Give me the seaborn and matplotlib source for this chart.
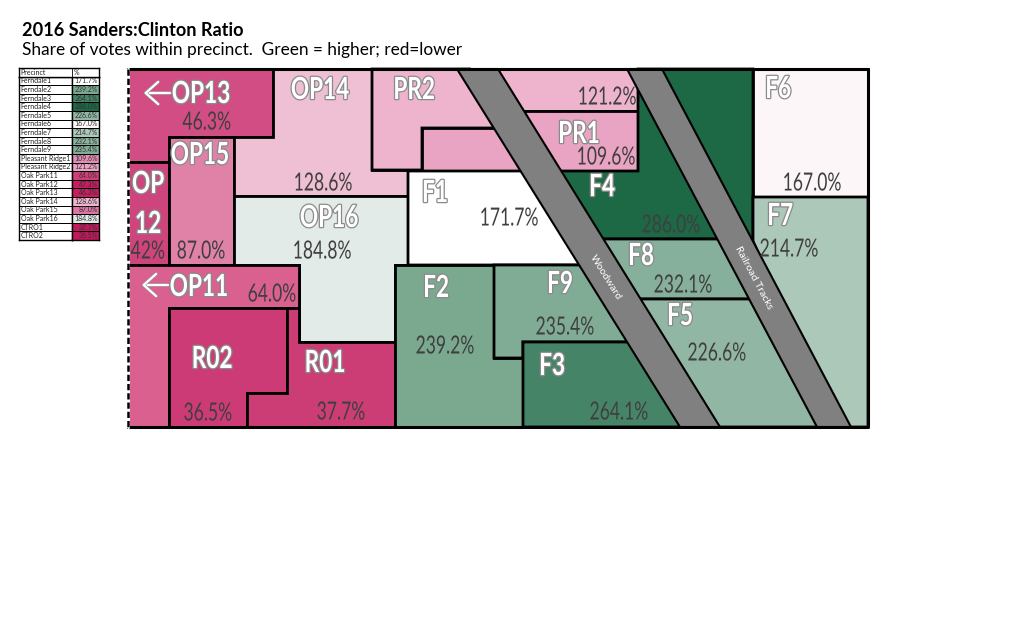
import numpy as np
import pandas as pd
import matplotlib
matplotlib.use("Agg")
import matplotlib.pyplot as plt
import matplotlib.patheffects as pe
from matplotlib.colors import LinearSegmentedColormap, to_rgb
from matplotlib.transforms import Affine2D
import seaborn as sns

# table values
table_names = ["Ferndale1", "Ferndale2", "Ferndale3", "Ferndale4", "Ferndale5", "Ferndale6",
               "Ferndale7", "Ferndale8", "Ferndale9", "Pleasant Ridge1", "Pleasant Ridge2",
               "Oak Park11", "Oak Park12", "Oak Park13", "Oak Park14", "Oak Park15",
               "Oak Park16", "CTRO1", "CTRO2"]
table_values = [171.7, 239.2, 264.1, 286.0, 226.6, 167.0, 214.7, 232.1, 235.4, 109.6, 121.2,
                64.0, 47.3, 46.3, 128.6, 87.0, 184.8, 37.7, 36.5]

# precinct values on the map
map_values = {"OP13": 46.3, "OP12": 42.0, "OP15": 87.0, "OP14": 128.6, "OP16": 184.8,
              "OP11": 64.0, "R02": 36.5, "R01": 37.7, "PR2": 121.2, "PR1": 109.6,
              "F1": 171.7, "F2": 239.2, "F3": 264.1, "F4": 286.0, "F5": 226.6,
              "F6": 167.0, "F7": 214.7, "F8": 232.1, "F9": 235.4}

# precinct outlines, in picture pixels
map_shapes = [
    ("OP13", [(128, 69), (273, 69), (273, 137), (169, 137), (169, 162), (128, 162)]),
    ("OP12", [(128, 162), (169, 162), (169, 265), (128, 265)]),
    ("OP15", [(169, 137), (234, 137), (234, 265), (169, 265)]),
    ("OP14", [(273, 69), (372, 69), (372, 170), (408, 170), (408, 196), (234, 196), (234, 137), (273, 137)]),
    ("OP16", [(234, 196), (408, 196), (408, 265), (395, 265), (395, 342), (299, 342), (299, 265), (234, 265)]),
    ("OP11", [(128, 265), (299, 265), (299, 308), (169, 308), (169, 427), (128, 427)]),
    ("R02", [(169, 308), (287, 308), (287, 393), (247, 393), (247, 427), (169, 427)]),
    ("R01", [(287, 308), (299, 308), (299, 342), (395, 342), (395, 427), (247, 427), (247, 393), (287, 393)]),
    ("PR2", [(372, 69), (470, 69), (510, 128), (422, 128), (422, 170), (372, 170)]),
    ("PR2", [(480, 69), (650, 69), (650, 111), (510, 111)]),
    ("PR1", [(422, 128), (510, 128), (510, 111), (638, 111), (638, 171), (422, 171)]),
    ("F1", [(408, 171), (540, 171), (600, 265), (408, 265)]),
    ("F4", [(540, 171), (638, 171), (638, 69), (753, 69), (753, 241), (735, 239), (600, 239)]),
    ("F6", [(753, 69), (868, 69), (868, 197), (753, 197)]),
    ("F7", [(753, 197), (868, 197), (868, 427), (835, 427), (753, 241)]),
    ("F8", [(590, 239), (730, 239), (765, 299), (630, 299)]),
    ("F5", [(630, 299), (765, 299), (835, 427), (700, 427)]),
    ("F2", [(395, 265), (494, 265), (494, 358), (523, 358), (523, 427), (395, 427)]),
    ("F9", [(494, 265), (590, 265), (640, 342), (523, 342), (523, 358), (494, 358)]),
    ("F3", [(523, 342), (650, 342), (700, 427), (523, 427)]),
]
road_woodward = [(457, 69), (498, 69), (720, 427), (680, 427)]
road_railroad = [(627, 69), (662, 69), (851, 427), (817, 427)]

# name labels, picture pixels
name_labels = [("OP13", 201, 94), ("OP14", 320, 90), ("PR2", 414, 90), ("PR1", 579, 134),
               ("F6", 778, 89), ("F1", 435, 193), ("F4", 602, 187), ("OP15", 200, 155),
               ("OP", 148, 184), ("12", 148, 224), ("OP16", 329, 218), ("F7", 780, 216),
               ("F8", 641, 256), ("F5", 680, 316), ("F9", 560, 284), ("F2", 436, 288),
               ("F3", 552, 366), ("OP11", 199, 287), ("R02", 212, 359), ("R01", 325, 363)]
pct_labels = [("46.3%", 207, 122), ("128.6%", 323, 183), ("121.2%", 607, 97), ("109.6%", 606, 157),
              ("167.0%", 812, 183), ("171.7%", 509, 218), ("286.0%", 671, 225), ("42%", 148, 251),
              ("87.0%", 201, 251), ("184.8%", 322, 251), ("214.7%", 789, 249), ("232.1%", 683, 285),
              ("226.6%", 717, 353), ("235.4%", 565, 327), ("239.2%", 445, 346), ("264.1%", 619, 412),
              ("64.0%", 272, 294), ("36.5%", 208, 413), ("37.7%", 341, 412)]

# value -> colour, map is paler than the table in the red half
map_stops = [(36.5, "#cc3b75"), (46.3, "#d14d83"), (64, "#d9608f"), (87, "#e082a9"), (109.6, "#e8a4c2"),
             (121.2, "#eeb5ce"), (128.6, "#efbfd3"), (167, "#fcf7f9"), (171.7, "#ffffff"), (184.8, "#e4ece9"),
             (214.7, "#abc8b9"), (226.6, "#93b7a4"), (232.1, "#86b09b"), (239.2, "#7ba990"),
             (264.1, "#478468"), (286, "#1d6845")]
table_stops = [(36.5, "#c2185b"), (47.3, "#c71e62"), (64, "#cf3e7a"), (87, "#dd78a4"), (109.6, "#e28db4"),
               (128.6, "#edb6ce"), (167, "#fdf8fa"), (171.7, "#ffffff"), (184.8, "#e4ece9"),
               (214.7, "#abc8b9"), (239.2, "#7ba990"), (264.1, "#478468"), (286, "#1d6845")]


class Squeeze(pe.AbstractPathEffect):
    # no condensed font here, so narrow the glyphs when they are drawn
    def __init__(self, sx, stroke=None, width=0):
        super().__init__()
        self.sx, self.stroke, self.width = sx, stroke, width

    def draw_path(self, renderer, gc, tpath, affine, rgbFace=None):
        box = tpath.get_extents()
        cx = (box.x0 + box.x1) / 2
        aff = Affine2D().translate(-cx, 0).scale(self.sx, 1).translate(cx, 0) + affine
        if self.stroke:
            gc0 = renderer.new_gc()
            gc0.copy_properties(gc)
            gc0.set_foreground(self.stroke)
            gc0.set_linewidth(self.width)
            renderer.draw_path(gc0, tpath, aff, to_rgb(self.stroke))
            gc0.restore()
        renderer.draw_path(gc, tpath, aff, rgbFace)


def make_cmap(stops):
    lo, hi = stops[0][0], stops[-1][0]
    return LinearSegmentedColormap.from_list("ratio", [((v - lo) / (hi - lo), c) for v, c in stops]), lo, hi


sns.set_theme(style="white")
plt.rcParams["font.family"] = ["Lato", "DejaVu Sans"]

fig = plt.figure(figsize=(10.24, 6.22), dpi=100)
ax = fig.add_axes([0, 0, 1, 1])
ax.set_xlim(0, 1024)
ax.set_ylim(622, 0)
ax.axis("off")

map_cmap, lo, hi = make_cmap(map_stops)
for name, pts in map_shapes:
    colour = map_cmap((map_values[name] - lo) / (hi - lo))
    ax.fill(*zip(*pts), facecolor=colour, edgecolor="black", linewidth=2.0, joinstyle="miter", zorder=2)

for road in [road_woodward, road_railroad]:
    ax.fill(*zip(*road), facecolor="#808080", edgecolor="black", linewidth=1.5, zorder=3)

# outer frame, left side is dashed (city boundary)
ax.plot([128, 868, 868, 128], [69, 69, 427, 427], color="black", lw=2.2, solid_capstyle="projecting", zorder=4)
ax.plot([128, 128], [69, 427], color="white", lw=2.2, zorder=4)
ax.plot([128, 128], [69, 427], color="black", lw=1.8, ls=(0, (2.5, 1.2)), zorder=4)

for text, x, y in name_labels:
    ax.text(x, y, text, fontweight="bold", fontsize=22, color="white", ha="center", va="center",
            path_effects=[Squeeze(0.74, stroke="#8a8a8a", width=1.8)], zorder=5)
for text, x, y in pct_labels:
    ax.text(x, y, text, fontsize=18, color="#3f3f3f", ha="center", va="center",
            path_effects=[Squeeze(0.7)], zorder=5)

for x_from, x_to, y in [(170, 144, 93), (168, 142, 285)]:
    ax.annotate("", xy=(x_to, y), xytext=(x_from, y), zorder=5,
                arrowprops=dict(arrowstyle="->,head_length=0.45,head_width=0.4", mutation_scale=20,
                                color="white", lw=1.6, shrinkA=0, shrinkB=0,
                                path_effects=[pe.withStroke(linewidth=2.4, foreground="#9a9a9a")]))

ax.text(606, 277, "Woodward", fontsize=7.5, color="white", rotation=-58,
        ha="center", va="center", rotation_mode="anchor", zorder=5)
ax.text(754, 278, "Railroad Tracks", fontsize=7.5, color="white", rotation=-62,
        ha="center", va="center", rotation_mode="anchor", zorder=5)

ax.text(22, 30, "2016 Sanders:Clinton Ratio", fontsize=13.1, fontweight="bold", color="black", va="center")
ax.text(22, 50.5, "Share of votes within precinct.  Green = higher; red=lower", fontsize=12.4, color="black", va="center")

# small table on the left, one heatmap per column
tab = pd.DataFrame({"Precinct": table_names, "%": table_values})
W, H = 1024, 622


def px_axes(x0, y0, x1, y1):
    return fig.add_axes([x0 / W, 1 - y1 / H, (x1 - x0) / W, (y1 - y0) / H])


row_h = (240 - 68) / 20
table_cmap, t_lo, t_hi = make_cmap(table_stops)
ax_names = px_axes(19, 68 + row_h, 72, 240)
sns.heatmap(np.zeros((19, 1)), ax=ax_names, cmap=["white"], cbar=False, annot=np.array(table_names)[:, None],
            fmt="", linewidths=0.6, linecolor="black", xticklabels=False, yticklabels=False,
            annot_kws={"fontsize": 5, "color": "#222222"})
ax_pct = px_axes(72, 68 + row_h, 99, 240)
pct_text = np.array([f"{v:.1f}%" for v in tab["%"]])[:, None]
sns.heatmap(tab[["%"]].to_numpy(), ax=ax_pct, cmap=table_cmap, vmin=t_lo, vmax=t_hi, cbar=False, annot=pct_text,
            fmt="", linewidths=0.6, linecolor="black", xticklabels=False, yticklabels=False,
            annot_kws={"fontsize": 5, "color": "#333333"})
for t in ax_names.texts:
    t.set_ha("left")
    t.set_x(0.03)
for t in ax_pct.texts:
    t.set_ha("right")
    t.set_x(0.97)

ax_head = px_axes(19, 68, 99, 68 + row_h)
ax_head.set_xticks([])
ax_head.set_yticks([])
ax_head.set_xlim(0, 80)
ax_head.set_ylim(0, 1)
ax_head.plot([53, 53], [0, 1], color="black", lw=0.6)
ax_head.text(1.5, 0.5, "Precinct", fontsize=5, color="#222222", va="center")
ax_head.text(54.5, 0.5, "%", fontsize=5, color="#222222", va="center")

for a in [ax_names, ax_pct, ax_head]:
    for s in a.spines.values():
        s.set_visible(True)
        s.set_color("black")
        s.set_linewidth(1.0)

fig.savefig("out.png", dpi=100)
